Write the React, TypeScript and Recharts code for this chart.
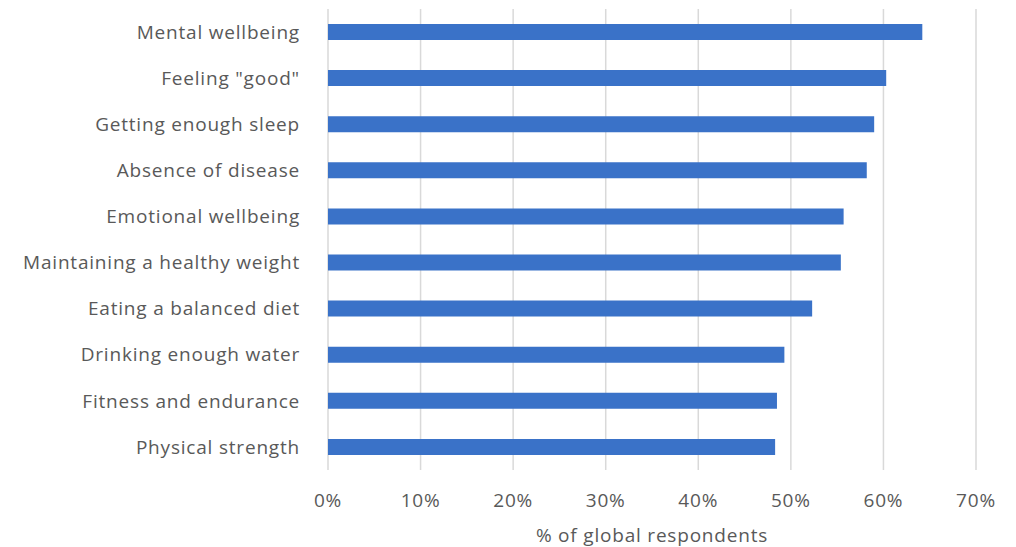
import React from "react";
import { BarChart, Bar, XAxis, YAxis, CartesianGrid, Label } from "recharts";

// survey categories, top to bottom
const categories = [
  "Mental wellbeing",
  'Feeling "good"',
  "Getting enough sleep",
  "Absence of disease",
  "Emotional wellbeing",
  "Maintaining a healthy weight",
  "Eating a balanced diet",
  "Drinking enough water",
  "Fitness and endurance",
  "Physical strength",
];

// share of respondents (fraction)
const shares = [0.642, 0.603, 0.59, 0.582, 0.557, 0.554, 0.523, 0.493, 0.485, 0.483];

const xTicks = [0, 0.1, 0.2, 0.3, 0.4, 0.5, 0.6, 0.7];

const data = categories.map((name, i) => ({ name, value: shares[i] }));

const textStyle = {
  fill: "#595959",
  fontSize: 19,
  fontFamily: "'Open Sans', sans-serif",
  letterSpacing: 0.8,
};

export default function App() {
  return (
    <div style={{ position: "absolute", left: 0, top: 0, background: "#fff" }}>
      <BarChart
        width={1016}
        height={547}
        data={data}
        layout="vertical"
        margin={{ top: 9, right: 40, bottom: 0, left: 0 }}
      >
        <CartesianGrid horizontal={false} stroke="#d9d9d9" strokeWidth={1.5} />
        <XAxis
          type="number"
          domain={[0, 0.7]}
          ticks={xTicks}
          tickFormatter={(v) => `${Math.round(v * 100)}%`}
          axisLine={false}
          tickLine={false}
          tickMargin={18}
          height={77}
          tick={textStyle}
        >
          <Label value="% of global respondents" position="insideBottom" offset={5} style={textStyle} />
        </XAxis>
        <YAxis
          type="category"
          dataKey="name"
          width={328}
          axisLine={false}
          tickLine={false}
          tickMargin={22}
          interval={0}
          tick={textStyle}
        />
        <Bar dataKey="value" fill="#3A72C8" barSize={16} isAnimationActive={false} />
      </BarChart>
    </div>
  );
}
